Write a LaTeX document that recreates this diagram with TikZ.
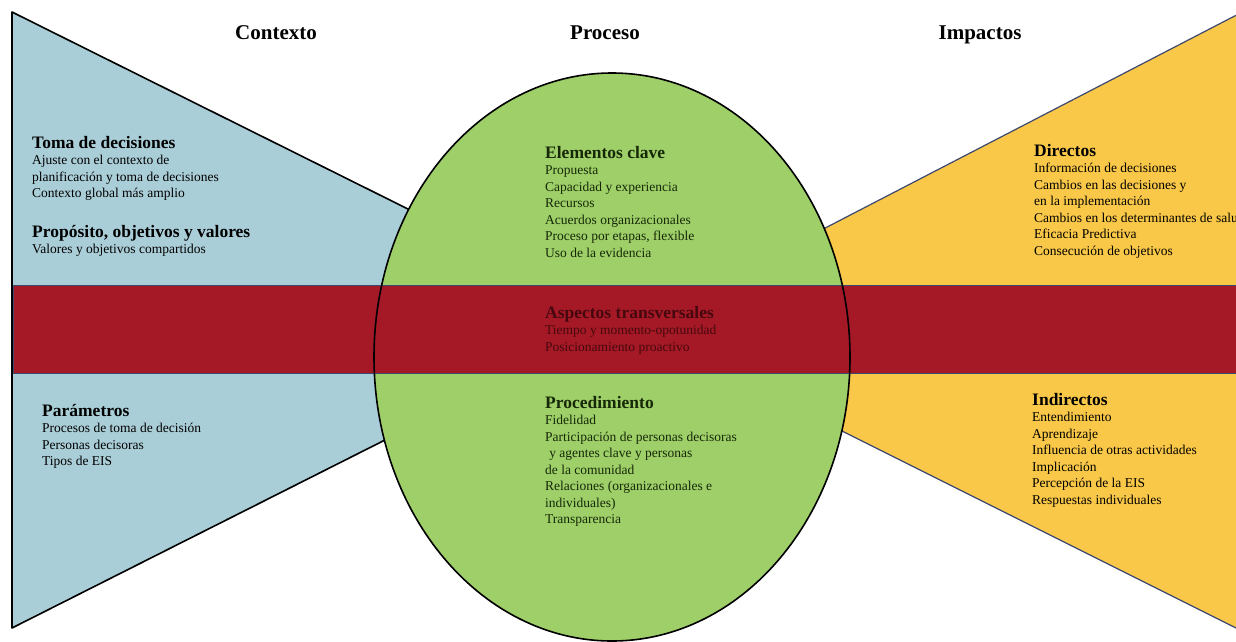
\documentclass[tikz,border=0pt]{standalone}
\usepackage{fontspec}
\setmainfont{Liberation Serif}
\usepackage{xcolor}

\definecolor{ctxblue}{RGB}{170,206,216}
\definecolor{procgreen}{RGB}{158,207,104}
\definecolor{impyellow}{RGB}{250,200,72}
\definecolor{bandred}{RGB}{164,25,37}
\definecolor{edgeblue}{RGB}{60,72,110}
\definecolor{txtred}{RGB}{70,8,14}
\definecolor{txtgreen}{RGB}{22,40,8}

\newcommand{\blockhead}[1]{\rule{0pt}{16pt}{\fontsize{17.5}{16.5}\selectfont\bfseries #1}}

\begin{document}
\begin{tikzpicture}[x=1pt,y=-1pt,
  title/.style={anchor=base,font=\fontsize{21}{24}\selectfont\bfseries},
  block/.style={anchor=north west,inner sep=0pt,align=left,font=\fontsize{13.5}{16.5}\selectfont}]
  \useasboundingbox (0,0) rectangle (1236,641);
  % side shapes
  \filldraw[fill=ctxblue, draw=black, line width=1.6pt, line join=round] (12,12) -- (627,318) -- (12,628) -- cycle;
  \filldraw[fill=impyellow, draw=edgeblue, line width=1.2pt] (1252,7) -- (634,327) -- (1252,636) -- cycle;
  % process ellipse and band
  \fill[procgreen] (612,357) ellipse [x radius=238pt, y radius=284pt];
  \filldraw[fill=bandred, draw=edgeblue, line width=0.7pt] (13,285) rectangle (1250,373);
  \draw[black, line width=1.6pt] (612,357) ellipse [x radius=238pt, y radius=284pt];
  % titles
  \node[title] (contexto) at (276,39) {Contexto};
  \node[title] (proceso) at (605,39) {Proceso};
  \node[title] (impactos) at (980,39) {Impactos};
  % contexto
  \node[block] (toma) at (32,132) {\blockhead{Toma de decisiones}\\
    Ajuste con el contexto de\\ planificación y toma de decisiones\\ Contexto global más amplio};
  \node[block] (proposito) at (32,221) {\blockhead{Propósito, objetivos y valores}\\
    Valores y objetivos compartidos};
  \node[block] (parametros) at (42,400) {\blockhead{Parámetros}\\
    Procesos de toma de decisión\\ Personas decisoras\\ Tipos de EIS};
  % proceso
  \node[block, text=txtgreen] (elementos) at (545,142) {\blockhead{Elementos clave}\\
    Propuesta\\ Capacidad y experiencia\\ Recursos\\ Acuerdos organizacionales\\
    Proceso por etapas, flexible\\ Uso de la evidencia};
  \node[block, text=txtred] (aspectos) at (545,302) {\blockhead{Aspectos transversales}\\
    Tiempo y momento-opotunidad\\ Posicionamiento proactivo};
  \node[block, text=txtgreen] (procedimiento) at (545,392) {\blockhead{Procedimiento}\\
    Fidelidad\\ Participación de personas decisoras\\ \hspace{0.3em}y agentes clave y personas\\
    de la comunidad\\ Relaciones (organizacionales e\\ individuales)\\ Transparencia};
  % impactos
  \node[block] (directos) at (1034,140) {\blockhead{Directos}\\
    Información de decisiones\\ Cambios en las decisiones y\\ en la implementación\\
    Cambios en los determinantes de salud\\ Eficacia Predictiva\\ Consecución de objetivos};
  \node[block] (indirectos) at (1032,389) {\blockhead{Indirectos}\\
    Entendimiento\\ Aprendizaje\\ Influencia de otras actividades\\ Implicación\\
    Percepción de la EIS\\ Respuestas individuales};
\end{tikzpicture}
\end{document}
